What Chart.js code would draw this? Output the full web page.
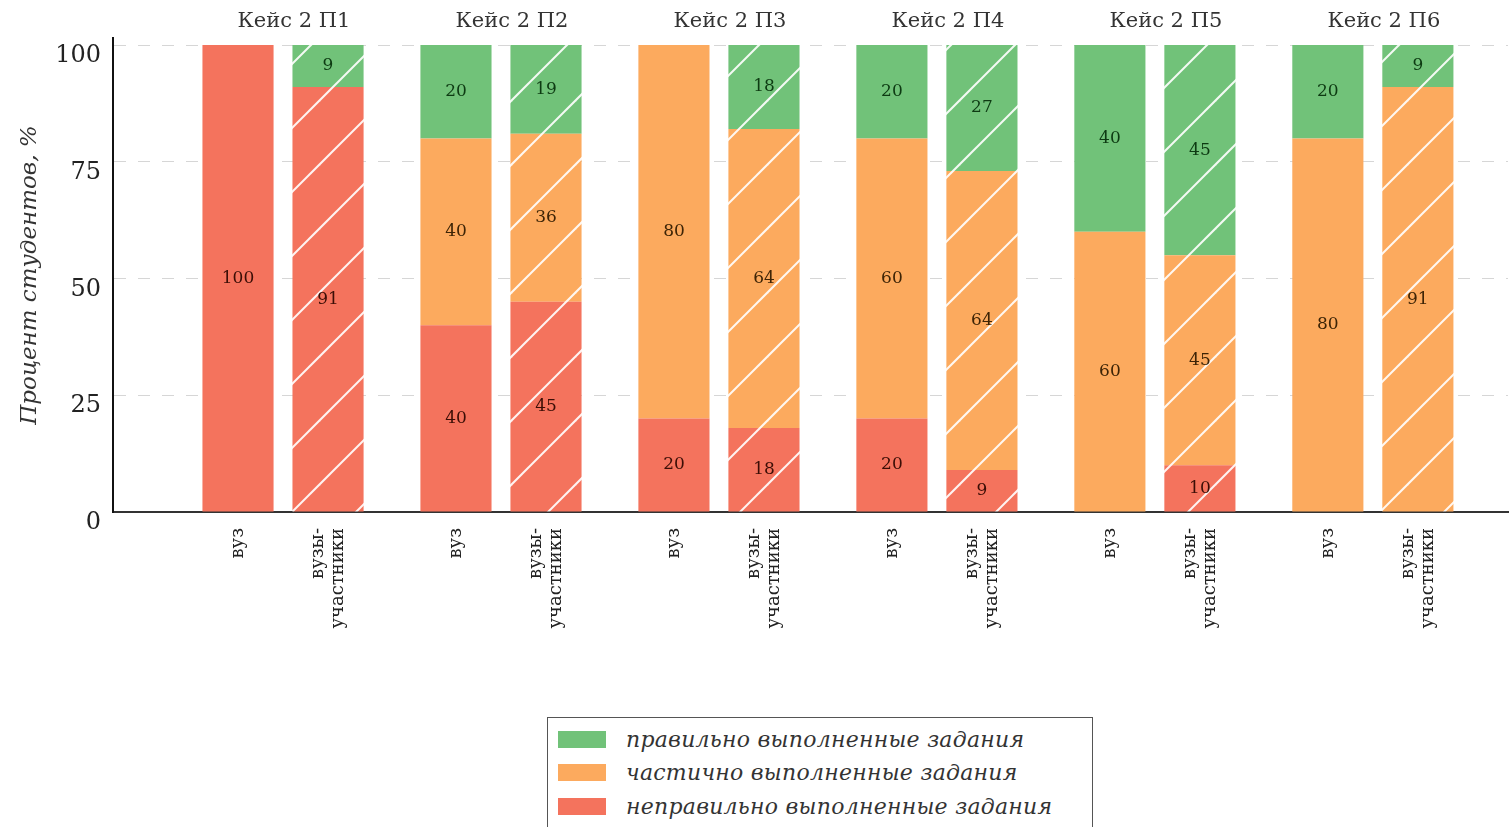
<!DOCTYPE html>
<html><head><meta charset="utf-8">
<script src="https://cdn.jsdelivr.net/npm/chart.js@4/dist/chart.umd.min.js"></script>
<style>
html,body{margin:0;padding:0;background:#fff;}
#wrap{position:relative;width:1510px;height:827px;overflow:hidden;}
#legend{position:absolute;left:547px;top:717px;width:546px;height:130px;border:1px solid #555;box-sizing:border-box;background:#fff;font-family:'DejaVu Serif',serif;font-style:italic;font-size:22px;letter-spacing:0.25px;color:#333;}
.li{position:absolute;left:10px;height:24px;display:flex;align-items:center;white-space:nowrap;}
.sw{width:48px;height:17px;margin-right:20px;flex:none;}
</style></head>
<body><div id="wrap"><canvas id="c" width="1510" height="827"></canvas><div id="legend"></div></div>
<script>
const groups = ['Кейс 2 П1','Кейс 2 П2','Кейс 2 П3','Кейс 2 П4','Кейс 2 П5','Кейс 2 П6'];
const barLabels = [['вуз'], ['вузы-','участники']];
const seriesNames = ['правильно выполненные задания','частично выполненные задания','неправильно выполненные задания'];
const vuzCorrect = [0,20,0,20,40,20];
const vuzPartial = [0,40,80,60,60,80];
const vuzWrong   = [100,40,20,20,0,0];
const uchCorrect = [9,19,18,27,45,9];
const uchPartial = [0,36,64,64,45,91];
const uchWrong   = [91,45,18,9,10,0];
const yTicks = [0,25,50,75,100];

const colCorrect = '#71c279', colPartial = '#fcaa5e', colWrong = '#f4735d';
const txtCorrect = '#0d3a12', txtPartial = '#3d2406', txtWrong = '#3b0e06';

function hatch(color){
  const s=64, c=document.createElement('canvas'); c.width=c.height=s;
  const g=c.getContext('2d'); g.fillStyle=color; g.fillRect(0,0,s,s);
  g.strokeStyle='rgba(255,255,255,0.92)'; g.lineWidth=2;
  for(let k=-1;k<=2;k++){const t=36+k*s; g.beginPath(); g.moveTo(t-s-2, s+2); g.lineTo(t+2, -2); g.stroke();}
  return document.getElementById('c').getContext('2d').createPattern(c,'repeat');
}
const pts = arr => arr.map((v,i)=>({x:i,y:v}));
const ds = (label, arr, fill, stack, txt) => ({label, data:pts(arr), backgroundColor:fill, stack, txt, borderWidth:0});

const datasets = [
  ds(seriesNames[2], vuzWrong, colWrong, 'vuz', txtWrong),
  ds(seriesNames[1], vuzPartial, colPartial, 'vuz', txtPartial),
  ds(seriesNames[0], vuzCorrect, colCorrect, 'vuz', txtCorrect),
  ds(seriesNames[2], uchWrong, hatch(colWrong), 'uch', txtWrong),
  ds(seriesNames[1], uchPartial, hatch(colPartial), 'uch', txtPartial),
  ds(seriesNames[0], uchCorrect, hatch(colCorrect), 'uch', txtCorrect)
];

const valueLabels = {
  id:'valueLabels',
  afterDatasetsDraw(chart){
    const ctx=chart.ctx; ctx.save();
    ctx.font='17px "DejaVu Serif"'; ctx.textAlign='center'; ctx.textBaseline='middle';
    chart.data.datasets.forEach((d,di)=>{
      const meta=chart.getDatasetMeta(di);
      meta.data.forEach((el,i)=>{
        const v=d.data[i].y; if(!v) return;
        ctx.fillStyle=d.txt;
        ctx.fillText(String(v), el.x, (el.y+el.base)/2);
      });
    });
    ctx.restore();
  }
};
const barNames = {
  id:'barNames',
  afterDraw(chart){
    const ctx=chart.ctx; ctx.save();
    ctx.font='18px "DejaVu Serif"'; ctx.fillStyle='#222'; ctx.textAlign='right'; ctx.textBaseline='middle';
    const top = chart.chartArea.bottom + 16;
    [0,3].forEach((di,k)=>{
      const meta=chart.getDatasetMeta(di);
      const lines=barLabels[k];
      meta.data.forEach(el=>{
        ctx.save(); ctx.translate(el.x, top); ctx.rotate(-Math.PI/2);
        lines.forEach((ln,j)=>ctx.fillText(ln, 0, (j-(lines.length-1)/2)*20));
        ctx.restore();
      });
    });
    ctx.restore();
  }
};

const xMin=-0.78, xMax=5.62;
new Chart(document.getElementById('c'), {
  type:'bar',
  data:{datasets},
  options:{
    responsive:false, animation:false,
    categoryPercentage:0.826, barPercentage:0.79,
    layout:{padding:{left:0,right:2,top:0,bottom:0}},
    plugins:{legend:{display:false}, tooltip:{enabled:false}},
    scales:{
      x:{type:'linear', position:'bottom', stacked:true, min:xMin, max:xMax, offset:false,
        afterBuildTicks:s=>{s.ticks=groups.map((g,i)=>({value:i}));},
        ticks:{display:false}, grid:{display:false, drawTicks:false, offset:false},
        border:{display:true, color:'#333', width:2},
        afterFit:s=>{s.height=315;}},
      xTop:{type:'linear', position:'top', min:xMin, max:xMax, offset:false,
        afterBuildTicks:s=>{s.ticks=groups.map((g,i)=>({value:i}));},
        ticks:{callback:(v)=>groups[v], font:{family:'DejaVu Serif', size:21}, color:'#333', padding:4, labelOffset:11, autoSkip:false, maxRotation:0},
        grid:{display:false, drawTicks:false, offset:false}, border:{display:false},
        afterFit:s=>{s.height=38;}},
      y:{min:0, max:101.5, stacked:true,
        afterBuildTicks:s=>{s.ticks=yTicks.map(v=>({value:v}));},
        ticks:{font:{family:'DejaVu Serif', size:24}, color:'#222', padding:12, labelOffset:11},
        grid:{color:'#d6d6d6', lineWidth:1, drawTicks:false},
        border:{display:true, color:'#111', width:2, dash:[12,12]},
        title:{display:true, text:'Процент студентов, %', font:{family:'DejaVu Serif', style:'italic', size:23}, color:'#333', padding:{top:16,bottom:0}},
        afterFit:s=>{s.width=113;}}
    }
  },
  plugins:[valueLabels, barNames]
});

const leg=document.getElementById('legend');
[[seriesNames[0],colCorrect],[seriesNames[1],colPartial],[seriesNames[2],colWrong]].forEach((it,i)=>{
  const d=document.createElement('div'); d.className='li'; d.style.top=(9+i*33.5)+'px';
  d.innerHTML='<span class="sw" style="background:'+it[1]+'"></span><span>'+it[0]+'</span>';
  leg.appendChild(d);
});
</script></body></html>
